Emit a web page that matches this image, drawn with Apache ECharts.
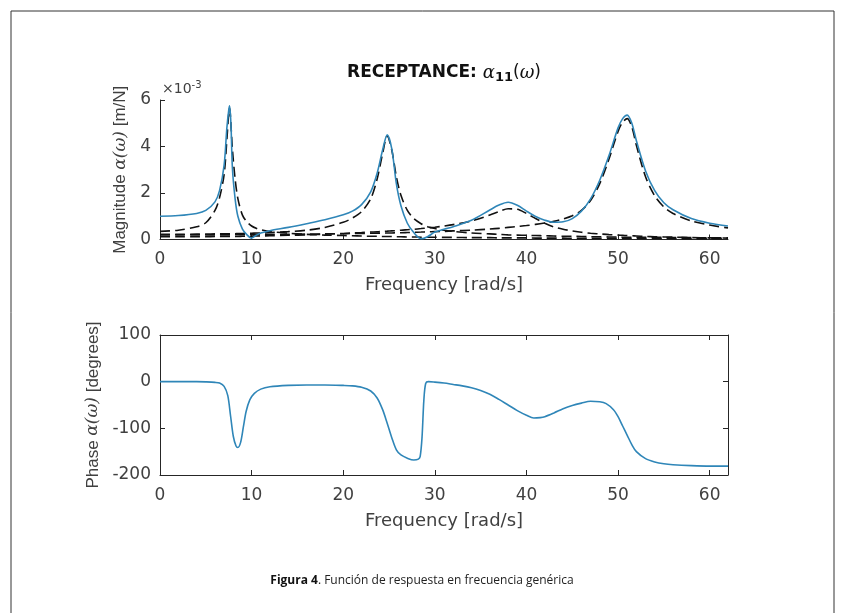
<!DOCTYPE html>
<html lang="es">
<head>
<meta charset="UTF-8">
<title>Receptance</title>
<script src="https://cdn.jsdelivr.net/npm/echarts@6/dist/echarts.min.js"></script>
<style>
  html, body { margin: 0; padding: 0; background: #fff; }
  #chart { width: 842px; height: 613px; }
</style>
</head>
<body>
<div id="chart"></div>
<script>
// frequency grid of the magnitude plot [rad/s]
var magFreq = [0, 2, 4, 5, 6, 6.5, 7, 7.3, 7.5, 7.6, 7.75, 7.9, 8.2, 8.5, 9, 9.5, 10, 10.5, 11, 12,
  14, 16, 18, 20, 21, 22, 23, 23.7, 24.3, 24.8, 25.3, 25.8, 26.3, 27, 27.7, 28.5, 29.2, 30, 31, 32,
  34, 36, 37, 38, 39, 40, 41, 42, 43, 44, 45, 46, 47, 48, 49, 50, 50.5, 51, 51.5, 52,
  53, 54, 55, 56, 58, 60, 62];
// |alpha11| in units of 1e-3 m/N (blue)
var magTotal = [1.00, 1.03, 1.12, 1.25, 1.62, 2.1, 3.2, 4.8, 5.55, 5.75, 4.9, 3.1, 1.75, 1.0, 0.45, 0.2, 0.06, 0.18, 0.28, 0.38,
  0.52, 0.68, 0.85, 1.06, 1.22, 1.5, 2.05, 2.85, 3.85, 4.5, 3.9, 2.4, 1.45, 0.7, 0.3, 0.03, 0.12, 0.32, 0.44, 0.55,
  0.83, 1.27, 1.48, 1.6, 1.47, 1.22, 0.99, 0.83, 0.74, 0.76, 0.9, 1.22, 1.75, 2.55, 3.6, 4.8, 5.2, 5.35, 5.0, 4.25,
  2.95, 2.1, 1.58, 1.28, 0.9, 0.7, 0.58];
// modal contributions (dashed), same units
var magMode1 = [0.35, 0.4, 0.55, 0.72, 1.25, 1.8, 2.8, 4.3, 5.4, 5.65, 4.9, 3.9, 2.6, 1.76, 1.05, 0.75, 0.58, 0.48, 0.42, 0.34,
  0.27, 0.22, 0.19, 0.17, 0.16, 0.15, 0.14, 0.14, 0.13, 0.13, 0.13, 0.12, 0.12, 0.11, 0.11, 0.1, 0.1, 0.1, 0.09, 0.09,
  0.08, 0.08, 0.07, 0.07, 0.07, 0.07, 0.06, 0.06, 0.06, 0.06, 0.05, 0.05, 0.05, 0.05, 0.05, 0.05, 0.05, 0.04, 0.04, 0.04,
  0.04, 0.04, 0.04, 0.04, 0.03, 0.03, 0.03];
var magMode2 = [0.22, 0.22, 0.23, 0.23, 0.24, 0.24, 0.24, 0.25, 0.25, 0.25, 0.25, 0.25, 0.25, 0.26, 0.26, 0.27, 0.27, 0.28, 0.28, 0.3,
  0.34, 0.4, 0.52, 0.74, 0.92, 1.2, 1.75, 2.6, 3.7, 4.45, 3.85, 2.7, 1.9, 1.25, 0.9, 0.68, 0.55, 0.47, 0.4, 0.35,
  0.28, 0.24, 0.22, 0.2, 0.19, 0.18, 0.17, 0.16, 0.15, 0.14, 0.14, 0.13, 0.12, 0.12, 0.11, 0.11, 0.1, 0.1, 0.1, 0.1,
  0.09, 0.09, 0.09, 0.08, 0.08, 0.07, 0.07];
var magMode3 = [0.12, 0.12, 0.12, 0.12, 0.13, 0.13, 0.13, 0.13, 0.13, 0.13, 0.13, 0.13, 0.13, 0.13, 0.14, 0.14, 0.14, 0.15, 0.15, 0.16,
  0.18, 0.2, 0.23, 0.26, 0.28, 0.3, 0.32, 0.33, 0.35, 0.36, 0.37, 0.38, 0.4, 0.42, 0.44, 0.47, 0.5, 0.53, 0.58, 0.64,
  0.8, 1.05, 1.2, 1.32, 1.3, 1.12, 0.9, 0.7, 0.54, 0.44, 0.37, 0.31, 0.27, 0.24, 0.21, 0.19, 0.18, 0.17, 0.16, 0.15,
  0.13, 0.12, 0.11, 0.1, 0.08, 0.07, 0.06];
var magMode4 = [0.2, 0.2, 0.2, 0.2, 0.2, 0.2, 0.2, 0.2, 0.2, 0.2, 0.2, 0.2, 0.21, 0.21, 0.21, 0.21, 0.21, 0.21, 0.21, 0.22,
  0.22, 0.23, 0.24, 0.25, 0.26, 0.26, 0.27, 0.27, 0.28, 0.28, 0.28, 0.29, 0.29, 0.3, 0.31, 0.32, 0.33, 0.34, 0.35, 0.37,
  0.4, 0.45, 0.48, 0.52, 0.56, 0.6, 0.65, 0.71, 0.78, 0.88, 1.02, 1.25, 1.68, 2.4, 3.45, 4.65, 5.05, 5.2, 4.85, 4.05,
  2.7, 1.88, 1.4, 1.12, 0.8, 0.62, 0.5];

// phase plot
var phaseFreq = [0, 2, 4, 5, 6, 6.5, 7, 7.4, 7.7, 8.0, 8.3, 8.5, 8.8, 9.1, 9.4, 9.8, 10.3,
  11, 12, 14, 16, 18, 20, 21, 22, 23, 23.7, 24.3, 24.8, 25.3, 25.8, 26.3, 27, 27.7,
  28.2, 28.4, 28.6, 28.8, 29.0, 29.3, 30, 31, 32, 33, 34, 35, 36, 37, 38, 39, 40,
  40.8, 41.5, 42, 43, 44, 45, 46, 47, 48, 48.7, 49.5, 50, 50.5, 51, 51.5, 52, 53, 54, 55, 56, 58, 60, 62];
var phaseDeg = [0, 0, 0, -0.5, -1.5, -3, -10, -30, -73, -117, -138, -141, -130, -97, -64, -39, -25,
  -16, -11, -8, -7, -7, -8, -9, -12, -20, -35, -60, -89, -120, -146, -157, -164, -168,
  -166, -160, -120, -40, -4, 0, -1, -3, -6, -9, -13, -19, -27, -38, -50, -62, -72,
  -78, -77, -75, -67, -58, -51, -46, -42, -43, -47, -60, -75, -95, -115, -135, -150, -165, -172, -176, -178, -180, -181, -181];

var freqMax = 62;
var magTicks = [0, 6, 2];      // min, max, step (x1e-3)
var phaseTicks = [-200, 100, 100];

function pairs(xs, ys) {
  var out = [];
  for (var i = 0; i < xs.length; i++) out.push([xs[i], ys[i]]);
  return out;
}

var txt = '#404040';
var axCol = '#262626';
var tickFont = 'DejaVu Sans';
var mathRich = {
  n: { fontFamily: 'Liberation Sans', fontSize: 17, color: txt },
  m: { fontFamily: 'DejaVu Serif', fontStyle: 'italic', fontSize: 17, color: txt }
};

function line() { return { show: true, onZero: false, lineStyle: { color: axCol, width: 1 } }; }
function tick() { return { show: true, inside: true, length: 5, lineStyle: { color: axCol } }; }

function xAx(grid) {
  return {
    type: 'value', gridIndex: grid, min: 0, max: freqMax, interval: 10,
    name: 'Frequency [rad/s]', nameLocation: 'middle', nameGap: 37,
    nameTextStyle: { fontFamily: tickFont, fontSize: 18, color: txt },
    axisLine: line(), axisTick: tick(),
    axisLabel: { fontFamily: tickFont, fontSize: 17, color: txt, margin: 12, showMaxLabel: false },
    splitLine: { show: false }
  };
}

var chart = echarts.init(document.getElementById('chart'));

var option = {
  animation: false,
  backgroundColor: '#fff',
  grid: [
    { left: 160, right: 114, top: 100, height: 139.5 },
    { left: 160, right: 114, top: 335, height: 140 }
  ],
  xAxis: [
    xAx(0),
    xAx(1),
    { type: 'value', gridIndex: 1, position: 'top', min: 0, max: freqMax, interval: 10,
      axisLine: line(), axisTick: tick(),
      axisLabel: { show: false }, splitLine: { show: false } }
  ],
  yAxis: [
    { type: 'value', gridIndex: 0, min: magTicks[0], max: magTicks[1], interval: magTicks[2],
      name: '{n|Magnitude }{m|α(ω)}{n| [m/N]}', nameLocation: 'middle', nameGap: 25,
      nameTextStyle: { rich: mathRich },
      axisLine: line(), axisTick: tick(),
      axisLabel: { fontFamily: tickFont, fontSize: 17, color: txt, margin: 9 },
      splitLine: { show: false } },
    { type: 'value', gridIndex: 1, min: phaseTicks[0], max: phaseTicks[1], interval: phaseTicks[2],
      name: '{n|Phase }{m|α(ω)}{n| [degrees]}', nameLocation: 'middle', nameGap: 52,
      nameTextStyle: { rich: mathRich },
      axisLine: line(), axisTick: tick(),
      axisLabel: { fontFamily: tickFont, fontSize: 17, color: txt, margin: 9 },
      splitLine: { show: false } },
    { type: 'value', gridIndex: 1, position: 'right', min: phaseTicks[0], max: phaseTicks[1], interval: phaseTicks[2],
      axisLine: line(), axisTick: tick(),
      axisLabel: { show: false }, splitLine: { show: false } }
  ],
  series: [],
  graphic: [
    { type: 'rect', shape: { x: 11, y: 11, width: 823, height: 640 },
      style: { fill: 'none', stroke: '#333', lineWidth: 1 }, silent: true },
    { type: 'text', x: 444, y: 74,
      style: {
        text: '{b|RECEPTANCE: }{m|α}{s|11}{p|(}{m|ω}{p|)}',
        align: 'center', verticalAlign: 'middle',
        rich: {
          b: { fontFamily: 'DejaVu Sans', fontWeight: 'bold', fontSize: 17, fill: '#111', lineHeight: 20, verticalAlign: 'top' },
          m: { fontFamily: 'DejaVu Serif', fontStyle: 'italic', fontSize: 18, fill: '#111', lineHeight: 20, verticalAlign: 'top' },
          p: { fontFamily: 'DejaVu Sans', fontSize: 17, fill: '#111', lineHeight: 20, verticalAlign: 'top' },
          s: { fontFamily: 'DejaVu Sans', fontWeight: 'bold', fontSize: 13, fill: '#111', lineHeight: 14, padding: [14, 0, 0, 0], verticalAlign: 'bottom' }
        }
      } },
    { type: 'text', x: 162, y: 88,
      style: {
        text: '{a|×10}{e|-3}',
        align: 'left', verticalAlign: 'middle',
        rich: {
          a: { fontFamily: 'DejaVu Sans', fontSize: 14, fill: txt, lineHeight: 16, padding: [6, 0, 0, 0], verticalAlign: 'bottom' },
          e: { fontFamily: 'DejaVu Sans', fontSize: 10, fill: txt, lineHeight: 12, verticalAlign: 'top' }
        }
      } },
    { type: 'text', x: 422, y: 581,
      style: {
        text: '{b|Figura 4}{n|. Función de respuesta en frecuencia genérica}',
        align: 'center', verticalAlign: 'middle',
        rich: {
          b: { fontFamily: 'Open Sans', fontWeight: 'bold', fontSize: 12, fill: '#111' },
          n: { fontFamily: 'Open Sans', fontSize: 12, fill: '#222' }
        }
      } }
  ]
};

var modes = [magMode1, magMode2, magMode3, magMode4];
modes.forEach(function (m, i) {
  option.series.push({
    name: 'Mode ' + (i + 1), type: 'line', xAxisIndex: 0, yAxisIndex: 0,
    data: pairs(magFreq, m), showSymbol: false, smooth: 0.3,
    lineStyle: { color: '#111', width: 1.6, type: [10, 5] }, z: 2
  });
});
option.series.push({
  name: 'Magnitude', type: 'line', xAxisIndex: 0, yAxisIndex: 0,
  data: pairs(magFreq, magTotal), showSymbol: false, smooth: 0.3,
  lineStyle: { color: '#2f86b8', width: 1.6 }, z: 3
});
option.series.push({
  name: 'Phase', type: 'line', xAxisIndex: 1, yAxisIndex: 1,
  data: pairs(phaseFreq, phaseDeg), showSymbol: false, smooth: 0.3,
  lineStyle: { color: '#2f86b8', width: 1.6 }, z: 3
});

chart.setOption(option);
</script>
</body>
</html>
